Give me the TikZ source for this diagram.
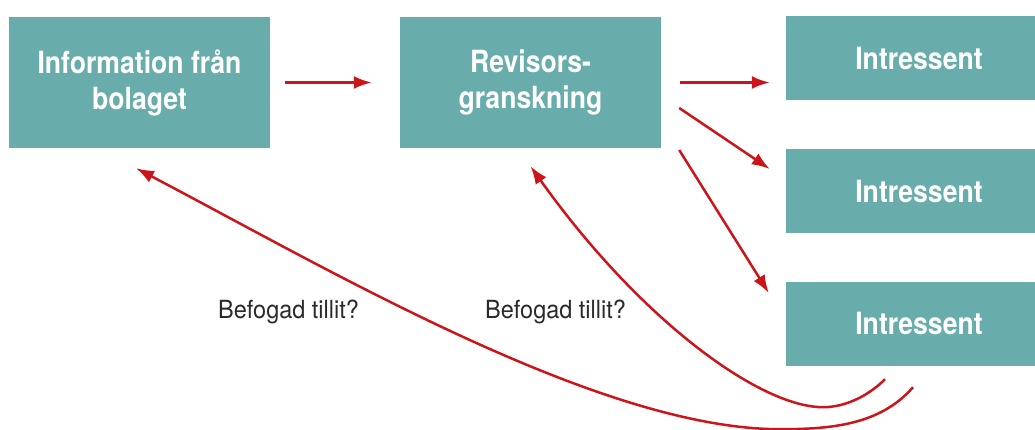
\documentclass[tikz,border=0pt]{standalone}
\usepackage{fontspec}
\setmainfont{TeX Gyre Heros}
\newfontfamily\boxfont[FakeStretch=0.87]{TeX Gyre Heros}
\newfontfamily\labelfont[FakeStretch=0.94]{TeX Gyre Heros}
\usetikzlibrary{arrows.meta}
\definecolor{boxteal}{HTML}{68ACAC}
\definecolor{arrowred}{HTML}{CC151B}
\definecolor{labelgray}{HTML}{2B2A29}
\tikzset{
    box/.style={fill=boxteal, text=white, minimum width=261pt, minimum height=131pt, inner sep=0pt, align=center, font=\boxfont\bfseries\fontsize{30.6}{36}\selectfont},
    ibox/.style={box, minimum width=266pt, minimum height=84pt},
    arr/.style={draw=arrowred, line width=2.5pt, -{Latex[length=18pt, width=13pt]}},
    trust/.style={text=labelgray, inner sep=0pt, anchor=base west, font=\labelfont\fontsize{25}{30}\selectfont}
}
\begin{document}
\begin{tikzpicture}[x=1pt, y=-1pt]
    \useasboundingbox (0,0) rectangle (1035,430);
    \node[box] (info) at (139.5, 82.5) {Information från\\bolaget};
    \node[box] (review) at (530.5, 82.5) {Revisors-\\granskning};
    \node[ibox] (int1) at (919, 58) {Intressent};
    \node[ibox] (int2) at (919, 191.5) {Intressent};
    \node[ibox] (int3) at (919, 323.5) {Intressent};
    \node[trust] (trust1) at (218, 318) {Befogad tillit?};
    \node[trust] (trust2) at (485, 318) {Befogad tillit?};
    \draw[arr, shorten <=15pt, shorten >=28pt] (info) -- (review);
    \draw[arr, shorten <=19pt, shorten >=16pt] (review.east) -- (review.east -| int1.west);
    \draw[arr] ([xshift=18pt, yshift=-25.5pt]review.east) -- ([xshift=-16pt, yshift=22.5pt]int2.west);
    \draw[arr] ([xshift=18pt, yshift=-67.5pt]review.east) -- ([xshift=-17pt, yshift=30.5pt]int3.west);
    % feedback curves
    \draw[arr] ([xshift=-34pt, yshift=-13.5pt]int3.south) .. controls +(-17,17) and +(22,0) .. +(-62,28)
        .. controls +(-63,0) and (640,320) .. ([yshift=-18pt]review.south);
    \draw[arr] ([xshift=-6pt, yshift=-21.5pt]int3.south) .. controls +(-33,38) and +(50,0) .. +(-133,42)
        .. controls +(-180,0) and (330,270) .. ([xshift=-3.5pt, yshift=-20pt]info.south);
\end{tikzpicture}
\end{document}
